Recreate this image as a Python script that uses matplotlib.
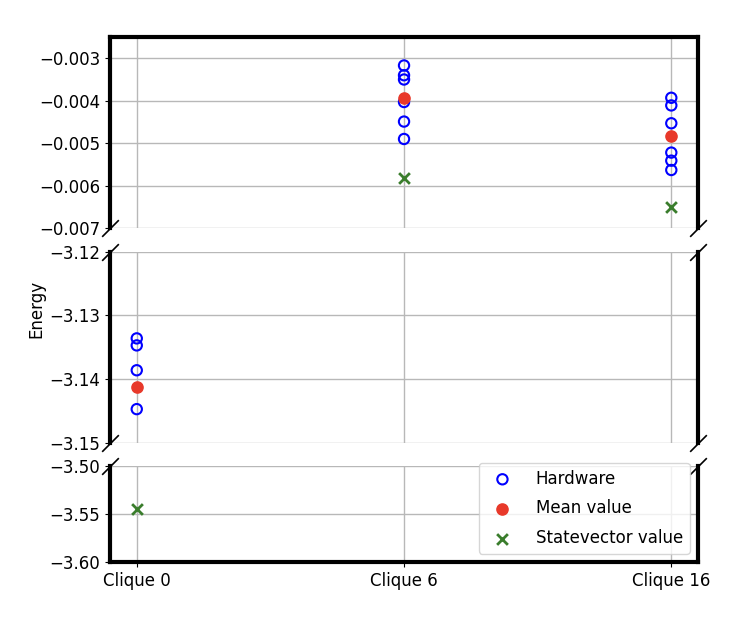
import matplotlib
matplotlib.use("Agg")
import matplotlib.pyplot as plt

# ---- data ----
cliques = ["Clique 0", "Clique 6", "Clique 16"]
hw_clique0 = [-3.1336, -3.1347, -3.1386, -3.1447]
hw_clique6 = [-0.00317, -0.00340, -0.00350, -0.00403, -0.00449, -0.00490]
hw_clique16 = [-0.00393, -0.00411, -0.00453, -0.00522, -0.00541, -0.00563]
mean_values = [-3.1412, -0.00393, -0.00482]
statevector_values = [-3.5448, -0.00581, -0.00650]

top_ticks = [-0.007, -0.006, -0.005, -0.004, -0.003]
mid_ticks = [-3.15, -3.14, -3.13, -3.12]
bot_ticks = [-3.60, -3.55, -3.50]

hw_sets = [hw_clique0, hw_clique6, hw_clique16]

plt.rcParams["font.size"] = 12

fig = plt.figure(figsize=(7.36, 6.18), dpi=100)
gs = fig.add_gridspec(3, 1, height_ratios=[2, 2, 1], hspace=0.1475,
                      left=0.1495, right=0.9484, top=0.9401, bottom=0.0906)
ax1 = fig.add_subplot(gs[0])
ax2 = fig.add_subplot(gs[1], sharex=ax1)
ax3 = fig.add_subplot(gs[2], sharex=ax1)
axes = [ax1, ax2, ax3]

for ax in axes:
    ax.grid(True, color="#b8b8b8", linewidth=1.0)
    ax.set_axisbelow(True)
    first = True
    for i, vals in enumerate(hw_sets):
        ax.scatter([i] * len(vals), vals, s=55, facecolors="none",
                   edgecolors="blue", linewidths=1.5,
                   label="Hardware" if first else None, zorder=3)
        first = False
    ax.scatter(range(len(cliques)), mean_values, s=65, color="#e8392a",
               label="Mean value", zorder=4)
    ax.scatter(range(len(cliques)), statevector_values, s=60, marker="x",
               color="#3a7d2c", linewidths=2, label="Statevector value", zorder=4)
    for s in ax.spines.values():
        s.set_linewidth(3)

ax1.set_ylim(-0.007, -0.0025)
ax2.set_ylim(-3.15, -3.12)
ax3.set_ylim(-3.60, -3.50)
ax1.set_yticks(top_ticks)
ax2.set_yticks(mid_ticks)
ax3.set_yticks(bot_ticks)

fmt = lambda nd: matplotlib.ticker.FuncFormatter(
    lambda x, p: f"{x:.{nd}f}".replace("-", "\u2212"))
ax1.yaxis.set_major_formatter(fmt(3))
ax2.yaxis.set_major_formatter(fmt(2))
ax3.yaxis.set_major_formatter(fmt(2))

ax1.spines["bottom"].set_visible(False)
ax2.spines["top"].set_visible(False)
ax2.spines["bottom"].set_visible(False)
ax3.spines["top"].set_visible(False)
ax1.tick_params(bottom=False, labelbottom=False)
ax2.tick_params(bottom=False, labelbottom=False)

ax3.set_xticks(range(len(cliques)))
ax3.set_xticklabels(cliques)
ax1.set_xlim(-0.1, 2.1)

# break marks
kw = dict(marker=[(-1, -1), (1, 1)], markersize=12, linestyle="none",
          color="k", mec="k", mew=1.2, clip_on=False)
ax1.plot([0, 1], [0, 0], transform=ax1.transAxes, **kw)
ax2.plot([0, 1], [1, 1], transform=ax2.transAxes, **kw)
ax2.plot([0, 1], [0, 0], transform=ax2.transAxes, **kw)
ax3.plot([0, 1], [1, 1], transform=ax3.transAxes, **kw)

ax3.legend(loc="lower right", labelspacing=0.7, handletextpad=1.0)

fig.text(0.049, 0.5, "Energy", rotation=90, va="center", ha="center")

fig.savefig("out.png", dpi=100)
